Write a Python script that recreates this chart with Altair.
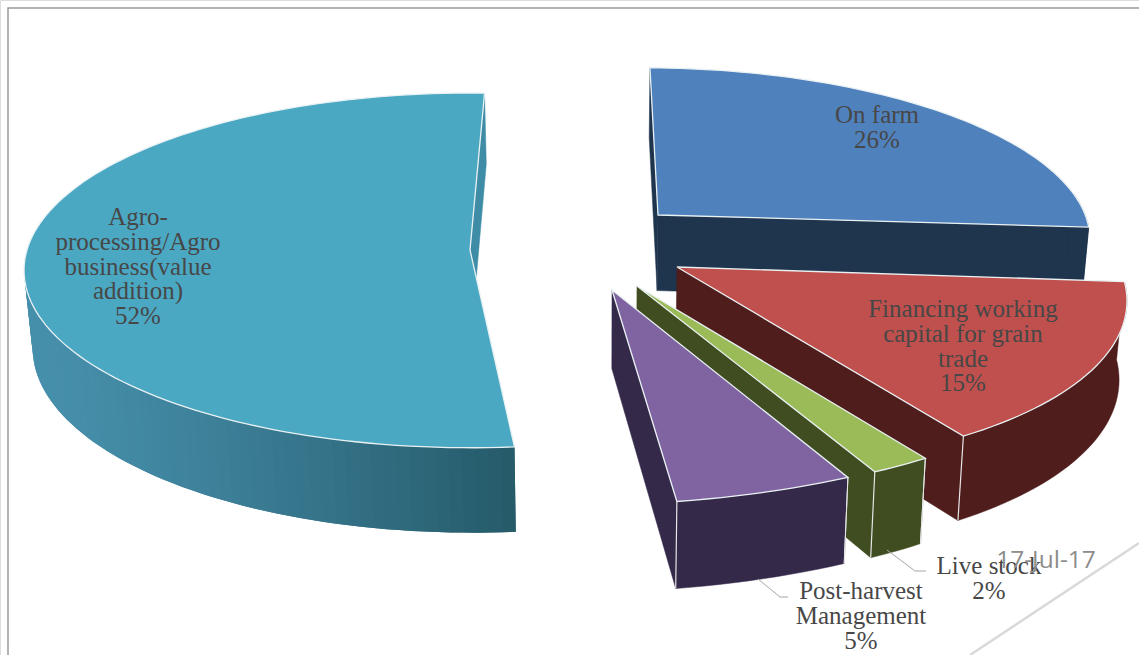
import math
import altair as alt

# Investment shares by segment of the value chain, clockwise from twelve o'clock
categories = ["On farm", "Financing working capital for grain trade", "Live stock",
              "Post-harvest Management", "Agro-processing/Agro business(value addition)"]
shares = [26, 15, 2, 5, 52]
top_colors = ["#4F81BD", "#C0504D", "#9BBB59", "#8064A2", "#4BA8C3"]
side_colors = ["#1F344D", "#4E1D1C", "#3F4D20", "#35294A", "#3F8CA6"]

# Label text, one entry per drawn line
label_lines = [
    ["On farm", "26%"],
    ["Financing working", "capital for grain", "trade", "15%"],
    ["Live stock", "2%"],
    ["Post-harvest", "Management", "5%"],
    ["Agro-", "processing/Agro", "business(value", "addition)", "52%"],
]
footer_date = "17-Jul-17"

W, H = 1139, 655
PERSPECTIVE = 0.115

# Exploded placement of each wedge and the tilted-disc parameters for it
wedges = [
    dict(apex=(658, 215), rx=429, ry=164, tilt=0.012, shear=0.0, start=-1.2),
    dict(apex=(677, 267), rx=447, ry=179, tilt=0.029, shear=0.0, start=90.5),
    dict(apex=(637, 286), rx=448, ry=183, tilt=0.029, shear=0.0, start=144.3),
    dict(apex=(612, 290), rx=510, ry=190, tilt=-0.02, shear=-0.025, start=155.0),
    dict(apex=(470, 250), rx=443, ry=175, tilt=0.0, shear=0.0, start=174.9),
]
label_anchor = [(877, 115), (963, 309), (989, 566), (861, 591), (138, 217)]
LINE_STEP = 24.8


def rim(w, deg):
    """Screen point on a wedge's upper rim at a clockwise angle from the top."""
    a = math.radians(deg)
    s, c = math.sin(a), math.cos(a)
    d = 1 + PERSPECTIVE * c
    dx = w["rx"] * s / d
    dy = (-w["ry"] * c + w["tilt"] * w["rx"] * s) / d
    return (w["apex"][0] + dx + w["shear"] * dy, w["apex"][1] + dy)


def lower(p):
    """Drop a point on the top face to the base of the disc."""
    return (p[0] - (p[0] - 600) * 0.015, p[1] + 67 + 0.04 * p[1])


def face(points, fill, line, width):
    ring = [list(p) for p in points] + [list(points[0])]
    return {
        "type": "Feature",
        "geometry": {"type": "Polygon", "coordinates": [ring]},
        "properties": {"fill": fill, "line": line, "sw": width},
    }


def mix(c1, c2, t):
    a = [int(c1[i:i + 2], 16) for i in (1, 3, 5)]
    b = [int(c2[i:i + 2], 16) for i in (1, 3, 5)]
    return "#" + "".join(f"{round(x + (y - x) * t):02x}" for x, y in zip(a, b))


# Painter's order: the large wedge and the far wedge first, then nearer ones
features = []
for idx in [4, 0, 1, 2, 3]:
    w = wedges[idx]
    sweep = shares[idx] * 3.6
    a0, a1 = w["start"], w["start"] + sweep
    apex = w["apex"]
    steps = max(6, int(sweep / 1.5))
    angles = [a0 + sweep * i / steps for i in range(steps + 1)]
    arc = [rim(w, a) for a in angles]

    # radial wall on the trailing edge
    end = arc[-1]
    features.append(face([apex, end, lower(end), lower(apex)], side_colors[idx], side_colors[idx], 0.5))
    if idx == 0:
        first = arc[0]
        features.append(face([apex, first, lower(first), lower(apex)], side_colors[idx], side_colors[idx], 0.5))

    # curved outer wall: only the part facing the viewer
    front = [p for a, p in zip(angles, arc) if math.cos(math.radians(a)) < 0.18]
    if idx == 4:
        # the large wedge carries a shade ramp; strips run left to right and each
        # one overlaps its neighbour so no seams appear between them
        ordered = list(reversed(front))
        for i in range(len(ordered) - 1):
            pa = ordered[i]
            pb = ordered[min(i + 2, len(ordered) - 1)]
            mid = ordered[i + 1]
            t = min(1, max(0, (pa[0] - 40) / 470))
            shade = mix("#468FAB", "#255A69", t ** 1.2)
            features.append(face([pa, mid, pb, lower(pb), lower(mid), lower(pa)], shade, "transparent", 0))
    elif len(front) > 1:
        features.append(face(front + [lower(p) for p in reversed(front)],
                             side_colors[idx], side_colors[idx], 0.5))

    # light seam down the front corners
    seam = "#e6e6e6"
    if idx in (1, 2, 3):
        features.append(face([end, lower(end)], "transparent", seam, 1.2))
    if idx in (2, 3):
        features.append(face([arc[0], lower(arc[0])], "transparent", seam, 1.0))

    features.append(face([apex] + arc, top_colors[idx], "#e9f1f3", 1.3))

pie = (
    alt.Chart(alt.Data(values=features))
    .mark_geoshape()
    .encode(
        color=alt.Color("properties.fill:N", scale=None, legend=None),
        stroke=alt.Stroke("properties.line:N", scale=None, legend=None),
        strokeWidth=alt.StrokeWidth("properties.sw:Q", scale=None, legend=None),
    )
    .project(type="identity", scale=1, translate=[0, 0])
)

x_scale = alt.Scale(domain=[0, W], range=[0, W])
y_scale = alt.Scale(domain=[0, H], range=[0, H])


def polyline(points, color, width):
    rows = [{"x": p[0], "y": p[1], "o": i} for i, p in enumerate(points)]
    return (
        alt.Chart(alt.Data(values=rows))
        .mark_line(color=color, strokeWidth=width, clip=True)
        .encode(
            x=alt.X("x:Q", scale=x_scale, axis=None),
            y=alt.Y("y:Q", scale=y_scale, axis=None),
            order="o:Q",
        )
    )


text_rows = []
for anchor, lines in zip(label_anchor, label_lines):
    for i, line in enumerate(lines):
        text_rows.append({"x": anchor[0], "y": anchor[1] + i * LINE_STEP, "t": line})

labels = (
    alt.Chart(alt.Data(values=text_rows))
    .mark_text(font="Liberation Serif", fontSize=25, color="#474747", align="center", baseline="middle")
    .encode(
        x=alt.X("x:Q", scale=x_scale, axis=None),
        y=alt.Y("y:Q", scale=y_scale, axis=None),
        text="t:N",
    )
)

date = (
    alt.Chart(alt.Data(values=[{"x": 1046, "y": 561, "t": footer_date}]))
    .mark_text(font="Open Sans", fontSize=24.5, color="#8c8c8c", align="center", baseline="middle")
    .encode(
        x=alt.X("x:Q", scale=x_scale, axis=None),
        y=alt.Y("y:Q", scale=y_scale, axis=None),
        text="t:N",
    )
)

frame = polyline([(8, 655), (8, 8), (1139, 8)], "#9a9a9a", 1.5)
corner = polyline([(1139, 543), (970, 655)], "#d9d9d9", 2.5)
lead_a = polyline([(887, 550), (915, 571), (926, 571)], "#a6a6a6", 1)
lead_b = polyline([(758, 579), (780, 597), (788, 597)], "#a6a6a6", 1)

chart = (
    alt.layer(frame, corner, pie, lead_a, lead_b, labels, date)
    .properties(width=W, height=H, padding=0, autosize=alt.AutoSizeParams(type="none"))
    .configure_view(strokeWidth=0)
    .configure(background="white")
)

chart.save("out.html", embed_options={"renderer": "svg", "actions": False})
